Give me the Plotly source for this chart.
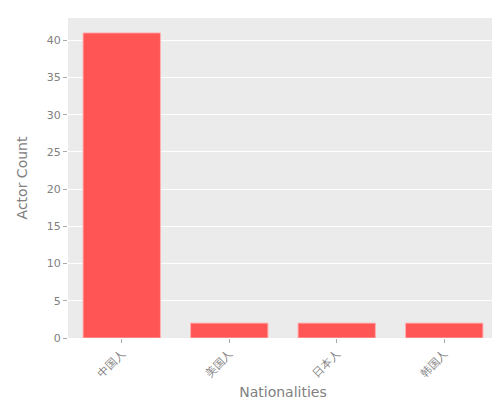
import plotly.graph_objects as go

nationalities = ["中国人", "美国人", "日本人", "韩国人"]
actor_counts = [41, 2, 2, 2]

fig = go.Figure(go.Bar(x=nationalities, y=actor_counts, marker_color="#FF5555",
                       marker_line_color="#FFB0B0", marker_line_width=1, width=0.72))
fig.update_layout(
    width=500, height=400, margin=dict(l=60, r=10, t=10, b=65),
    paper_bgcolor="white", plot_bgcolor="#EBEBEB",
    font=dict(family="DejaVu Sans", color="#808080", size=11),
    showlegend=False,
)
fig.update_xaxes(title_text="Nationalities", title_font=dict(size=14), tickangle=-45,
                 ticks="outside", ticklen=4, tickcolor="#AAAAAA", showgrid=False, title_standoff=8)
fig.update_yaxes(title_text="Actor Count", title_font=dict(size=14), range=[0, 43],
                 dtick=5, ticks="outside", ticklen=4, tickcolor="#AAAAAA",
                 gridcolor="white", zeroline=False)
fig.write_html("out.html")
